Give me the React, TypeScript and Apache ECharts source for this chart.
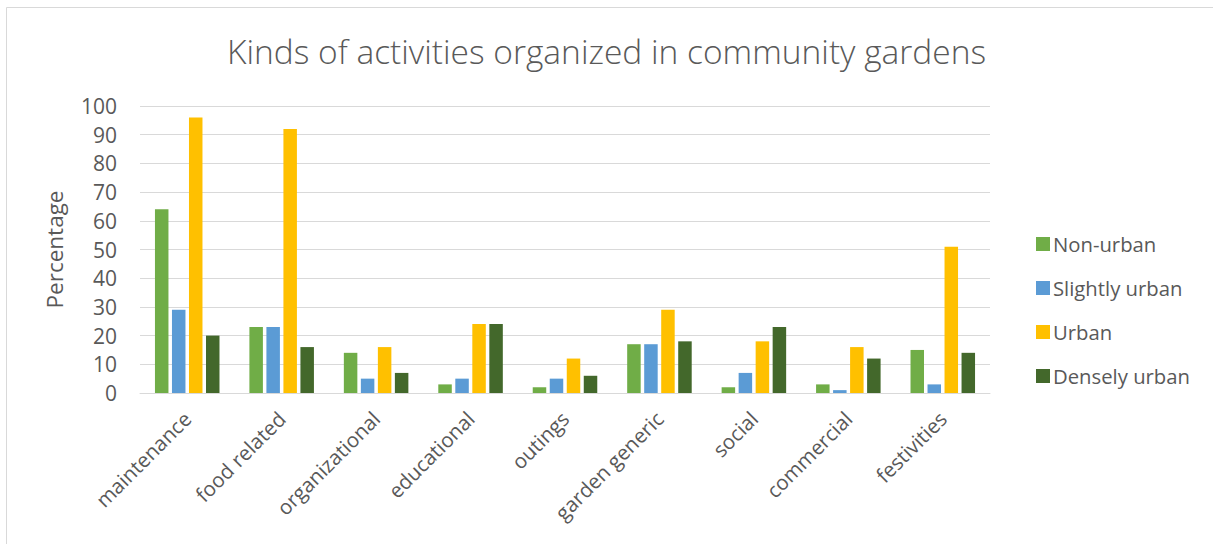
import React, { useEffect, useRef } from "react";
import * as echarts from "echarts";

const categories = [
  "maintenance",
  "food related",
  "organizational",
  "educational",
  "outings",
  "garden generic",
  "social",
  "commercial",
  "festivities",
];
const nonUrban = [64, 23, 14, 3, 2, 17, 2, 3, 15];
const slightlyUrban = [29, 23, 5, 5, 5, 17, 7, 1, 3];
const urban = [96, 92, 16, 24, 12, 29, 18, 16, 51];
const denselyUrban = [20, 16, 7, 24, 6, 18, 23, 12, 14];
const seriesNames = ["Non-urban", "Slightly urban", "Urban", "Densely urban"];
const seriesColors = ["#70AD47", "#5B9BD5", "#FFC000", "#43682B"];
const yTicks = [0, 10, 20, 30, 40, 50, 60, 70, 80, 90, 100];

const FONT = "'Open Sans', 'Noto Sans', sans-serif";
const TEXT = "#595959";

export default function App() {
  const ref = useRef<HTMLDivElement>(null);
  useEffect(() => {
    if (!ref.current) return;
    const chart = echarts.init(ref.current, null, { renderer: "svg" });
    const data = [nonUrban, slightlyUrban, urban, denselyUrban];
    chart.setOption({
      animation: false,
      backgroundColor: "#ffffff",
      textStyle: { fontFamily: FONT },
      title: {
        text: "Kinds of activities organized in community gardens",
        left: "center",
        top: 29,
        textStyle: { fontFamily: FONT, fontSize: 33.5, fontWeight: 300, color: TEXT },
      },
      graphic: [
        {
          type: "rect",
          shape: { x: 6.5, y: 7.5, width: 1400, height: 700 },
          style: { fill: "none", stroke: "#d9d9d9", lineWidth: 1 },
          silent: true,
        },
      ],
      legend: {
        orient: "vertical",
        left: 1031,
        top: 229,
        itemWidth: 14,
        itemHeight: 14,
        itemGap: 24,
        icon: "rect",
        data: seriesNames,
        textStyle: { fontFamily: FONT, fontSize: 20.3, color: TEXT, padding: [0, 0, 0, -2] },
      },
      grid: { left: 140, right: 223, top: 106, bottom: 151 },
      xAxis: {
        type: "category",
        data: categories,
        axisLine: { lineStyle: { color: "#d9d9d9", width: 1 } },
        axisTick: { show: false },
        axisLabel: {
          rotate: 45,
          margin: 22,
          interval: 0,
          fontFamily: FONT,
          fontSize: 20.5,
          color: TEXT,
        },
      },
      yAxis: {
        type: "value",
        min: yTicks[0],
        max: yTicks[yTicks.length - 1],
        interval: 10,
        name: "Percentage",
        nameLocation: "middle",
        nameGap: 74,
        nameTextStyle: { fontFamily: FONT, fontSize: 22.5, color: TEXT },
        axisLine: { show: false },
        axisTick: { show: false },
        splitLine: { lineStyle: { color: "#d9d9d9", width: 1 } },
        axisLabel: { margin: 23, fontFamily: FONT, fontSize: 21, color: TEXT },
      },
      series: seriesNames.map((name, i) => ({
        name,
        type: "bar",
        data: data[i],
        barWidth: 13.5,
        barGap: "26%",
        itemStyle: { color: seriesColors[i] },
      })),
    });
    return () => chart.dispose();
  }, []);
  return (
    <div
      ref={ref}
      style={{ position: "fixed", left: 0, top: 0, width: 1213, height: 544 }}
    />
  );
}
